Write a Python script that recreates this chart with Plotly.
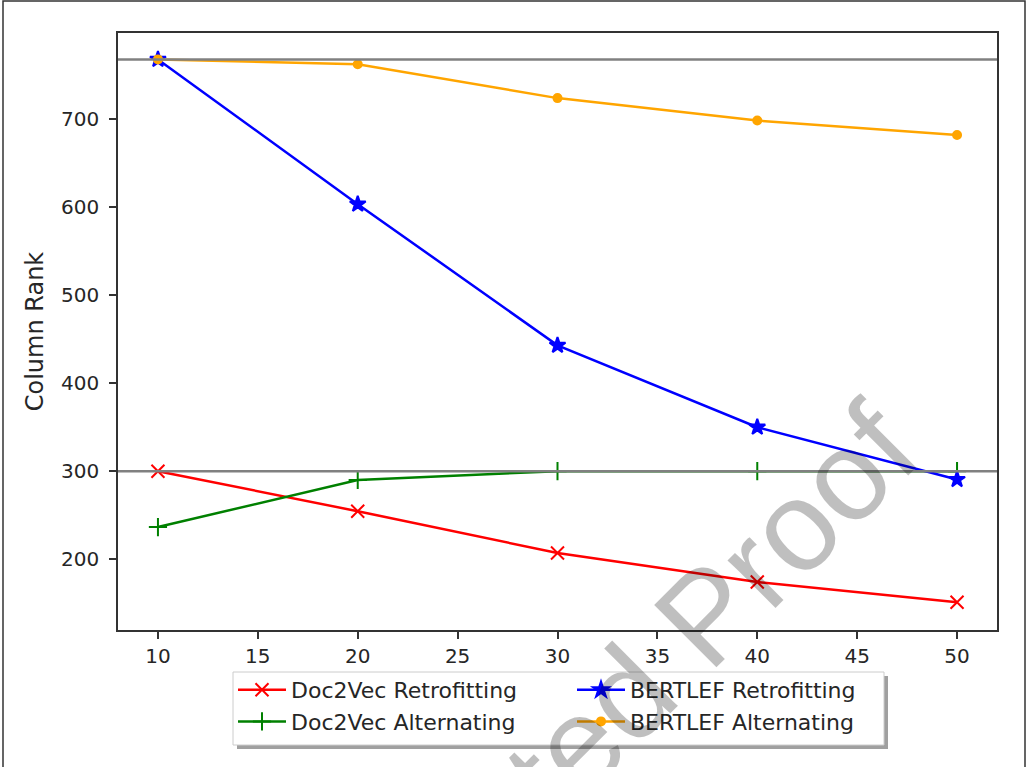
import plotly.graph_objects as go

dims = [10, 20, 30, 40, 50]
doc2vec_retro = [300, 254.5, 207, 174, 151]
doc2vec_alt = [236.5, 290, 300, 300, 300]
bertlef_retro = [768, 603.5, 443, 350, 290.5]
bertlef_alt = [768, 762.5, 724, 698.5, 682]
ref_levels = [768, 300]
x_ticks = [10, 15, 20, 25, 30, 35, 40, 45, 50]
y_ticks = [200, 300, 400, 500, 600, 700]

W, H = 1028, 767
L, R, T, B = 118, 997, 33, 630


def px(x):
    return (x - L) / (R - L)


def py(y):
    return (B - y) / (B - T)


FONT = "DejaVu Sans"
fig = go.Figure()

series = [
    ("Doc2Vec Retrofitting", doc2vec_retro, "#ff0000", "x-thin-open", 13, "legend"),
    ("Doc2Vec Alternating", doc2vec_alt, "#008000", "cross-thin-open", 13, "legend"),
    ("BERTLEF Retrofitting", bertlef_retro, "#0000ff", "star", 12, "legend2"),
    ("BERTLEF Alternating", bertlef_alt, "#ffa500", "circle", 8, "legend2"),
]
for name, vals, col, sym, size, leg in series:
    fig.add_trace(go.Scatter(
        x=dims, y=vals, name=name, mode="lines+markers",
        line=dict(color=col, width=2.5),
        marker=dict(symbol=sym, size=size, color=col,
                    line=dict(color=col, width=2)),
        legend=leg, legendgroup=name,
    ))

for lv in ref_levels:
    fig.add_shape(type="line", xref="paper", yref="y", x0=0, x1=1,
                  y0=lv, y1=lv, line=dict(color="#808080", width=2.5),
                  layer="above")

# outer frame of the image
fig.add_shape(type="rect", xref="paper", yref="paper",
              x0=px(3), x1=px(1025), y0=py(1), y1=py(800),
              line=dict(color="#333333", width=1.5), layer="below")

# legend frame with shadow
fig.add_shape(type="rect", xref="paper", yref="paper",
              x0=px(237), x1=px(888), y0=py(676), y1=py(749),
              line=dict(width=0), fillcolor="#a0a0a0", layer="above")
fig.add_shape(type="rect", xref="paper", yref="paper",
              x0=px(233), x1=px(884), y0=py(672), y1=py(745),
              line=dict(color="#cccccc", width=1), fillcolor="white",
              layer="above")

fig.add_annotation(
    text="Uncorrected Proof", xref="paper", yref="paper",
    x=px(526), y=py(794), showarrow=False, textangle=-45,
    font=dict(family="Liberation Sans", size=128, color="rgba(0,0,0,0.25)"),
    xanchor="center", yanchor="middle",
)

leg_common = dict(
    orientation="v", yanchor="top", xanchor="left",
    bgcolor="rgba(0,0,0,0)", borderwidth=0, tracegroupgap=0,
    font=dict(family=FONT, size=22, color="#262626"),
    itemwidth=48,
)

fig.update_layout(
    width=W, height=H,
    margin=dict(l=L, r=W - R, t=T, b=H - B),
    paper_bgcolor="white", plot_bgcolor="white",
    font=dict(family=FONT, size=20, color="#262626"),
    showlegend=True,
    legend=dict(x=px(233), y=py(669), **leg_common),
    legend2=dict(x=px(572), y=py(669), **leg_common),
    xaxis=dict(
        range=[8, 52], tickmode="array", tickvals=x_ticks,
        showgrid=False, zeroline=False, showline=True, mirror=True,
        linecolor="#333333", linewidth=1.5, ticks="outside", ticklen=7,
        tickcolor="#333333", tickwidth=1.5,
    ),
    yaxis=dict(
        range=[119.5, 798], tickmode="array", tickvals=y_ticks,
        showgrid=False, zeroline=False, showline=True, mirror=True,
        linecolor="#333333", linewidth=1.5, ticks="outside", ticklen=7,
        tickcolor="#333333", tickwidth=1.5, ticklabelstandoff=6,
        title=dict(text="Column Rank", standoff=11,
                   font=dict(family=FONT, size=24, color="#262626")),
    ),
)

fig.write_html("out.html", config={"displayModeBar": False},
               post_script="document.body.style.margin='0';")
